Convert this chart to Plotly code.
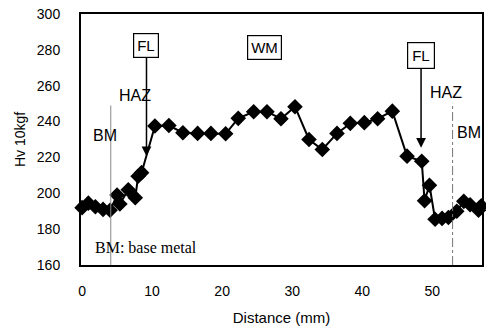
import plotly.graph_objects as go

distance_mm = [0, 0.9, 1.9, 3.0, 4.0, 5.0, 5.4, 6.6, 7.6, 8.0, 8.5,
               10.4, 12.4, 14.4, 16.5, 18.4, 20.5, 22.3, 24.5, 26.4, 28.4,
               30.4, 32.4, 34.3, 36.4, 38.3, 40.3, 42.2, 44.3, 46.4, 48.5,
               48.9, 49.6, 50.4, 51.4, 52.3, 53.5, 54.5, 55.4, 56.6, 57.0]
hardness_hv = [192, 194.5, 192.5, 191, 190.5, 199, 194, 202, 197.5, 209.5, 211.5,
               237.5, 237.8, 233.8, 233.4, 233.4, 233.2, 241.8, 245.5, 245.5, 241.6,
               248.3, 230, 224.4, 233.4, 239, 239.4, 241.6, 245.8, 220.7, 217.9,
               195.8, 204.5, 185.5, 186, 186.5, 190, 195.5, 193.6, 190.5, 193]

x_ticks = [0, 10, 20, 30, 40, 50]
y_ticks = [160, 180, 200, 220, 240, 260, 280, 300]

FONT = "Liberation Sans, Arial, sans-serif"

fig = go.Figure()
fig.add_trace(go.Scatter(
    x=distance_mm, y=hardness_hv, mode="lines+markers",
    line=dict(color="black", width=2),
    marker=dict(symbol="diamond", size=12, color="black"),
    cliponaxis=False, showlegend=False,
))

# boundary lines
fig.add_shape(type="line", x0=4.1, x1=4.1, y0=160, y1=249, xref="x", yref="y",
              line=dict(color="#888888", width=1))
fig.add_shape(type="line", x0=52.9, x1=52.9, y0=160, y1=249, xref="x", yref="y",
              line=dict(color="#777777", width=1, dash="dashdot"))

annotations = [
    dict(x=9.2, y=220.7, text="FL", showarrow=True, arrowhead=2, arrowsize=1.3,
         arrowwidth=1.5, arrowcolor="black", ax=0, ay=-111,
         bordercolor="black", borderwidth=1.2, borderpad=3, bgcolor="white",
         font=dict(family=FONT, size=15, color="black")),
    dict(x=48.4, y=225.4, text="FL", showarrow=True, arrowhead=2, arrowsize=1.3,
         arrowwidth=1.5, arrowcolor="black", ax=0, ay=-92,
         bordercolor="black", borderwidth=1.2, borderpad=4, bgcolor="white",
         font=dict(family=FONT, size=15, color="black")),
    dict(x=26.1, y=281.5, text="WM", showarrow=False,
         bordercolor="black", borderwidth=1.2, borderpad=3, bgcolor="white",
         font=dict(family=FONT, size=15, color="black")),
    dict(x=7.6, y=254.8, text="HAZ", showarrow=False,
         font=dict(family=FONT, size=16, color="black")),
    dict(x=3.3, y=232.0, text="BM", showarrow=False,
         font=dict(family=FONT, size=16, color="black")),
    dict(x=52.0, y=256.2, text="HAZ", showarrow=False,
         font=dict(family=FONT, size=16, color="black")),
    dict(x=55.3, y=234.0, text="BM", showarrow=False,
         font=dict(family=FONT, size=16, color="black")),
    dict(x=1.6, y=169.5, text="BM: base metal", showarrow=False, xanchor="left",
         font=dict(family="Liberation Serif, Times New Roman, serif", size=16, color="black")),
]

fig.update_layout(
    width=486, height=332,
    margin=dict(l=81, r=4, t=14, b=67),
    plot_bgcolor="white", paper_bgcolor="white",
    annotations=annotations,
    font=dict(family=FONT, size=14, color="black"),
)
fig.update_xaxes(
    range=[-0.15, 57.1], tickvals=x_ticks, showgrid=False, zeroline=False,
    showline=True, linecolor="black", linewidth=2, mirror=True, ticks="",
    ticklabelstandoff=12, automargin=False,
    title=dict(text="Distance (mm)", font=dict(size=15), standoff=15),
    tickfont=dict(size=14),
)
fig.update_yaxes(
    range=[160, 300], tickvals=y_ticks, showgrid=False, zeroline=False,
    showline=True, linecolor="black", linewidth=2, mirror=True, ticks="",
    ticklabelstandoff=16, automargin=False,
    title=dict(text="Hv 10kgf", font=dict(size=14), standoff=8),
    tickfont=dict(size=14),
)

fig.write_html("out.html", config={"displayModeBar": False},
               post_script="document.body.style.margin='0';document.body.style.overflow='hidden';")
